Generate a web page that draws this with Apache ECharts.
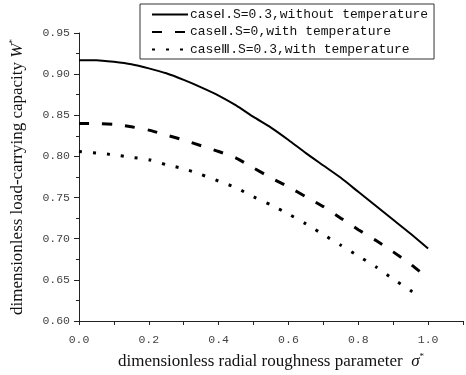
<!DOCTYPE html>
<html>
<head>
<meta charset="utf-8">
<script src="https://cdn.jsdelivr.net/npm/echarts@6/dist/echarts.min.js"></script>
<style>html,body{margin:0;padding:0;background:#fff;}#c{width:466px;height:375px;}</style>
</head>
<body>
<div id="c"></div>
<script>
var seriesNames = ['caseⅠ.S=0.3,without temperature', 'caseⅡ.S=0,with temperature', 'caseⅢ.S=0.3,with temperature'];
var xValues = [0, 0.05, 0.1, 0.15, 0.2, 0.25, 0.3, 0.35, 0.4, 0.45, 0.5, 0.55, 0.6, 0.65, 0.7, 0.75, 0.8, 0.85, 0.9, 0.95, 1.0];
var caseI = [0.917, 0.917, 0.915, 0.912, 0.907, 0.901, 0.893, 0.884, 0.874, 0.862, 0.848, 0.835, 0.820, 0.804, 0.789, 0.774, 0.757, 0.740, 0.723, 0.706, 0.688];
var caseII = [0.840, 0.840, 0.839, 0.836, 0.832, 0.826, 0.820, 0.813, 0.806, 0.798, 0.786, 0.774, 0.763, 0.751, 0.739, 0.725, 0.711, 0.698, 0.684, 0.669, 0.652];
var xValuesIII = [0, 0.05, 0.1, 0.15, 0.2, 0.25, 0.3, 0.35, 0.4, 0.45, 0.5, 0.55, 0.6, 0.65, 0.7, 0.75, 0.8, 0.85, 0.9, 0.95, 0.97];
var caseIII = [0.806, 0.804, 0.802, 0.799, 0.796, 0.790, 0.785, 0.778, 0.770, 0.762, 0.751, 0.741, 0.730, 0.718, 0.705, 0.692, 0.679, 0.666, 0.651, 0.637, 0.630];

function pairs(xs, ys) { return xs.map(function (x, i) { return [x, ys[i]]; }); }

var chart = echarts.init(document.getElementById('c'));
var monoFont = '"Liberation Mono", "DejaVu Sans Mono", monospace';
var serifFont = '"Liberation Serif", "DejaVu Serif", serif';
chart.setOption({
  animation: false,
  backgroundColor: '#fff',
  color: ['#000', '#000', '#000'],
  grid: { left: 78, right: 0, top: 33, bottom: 51 },
  legend: {
    orient: 'vertical',
    left: 140, top: 4,
    backgroundColor: '#fff',
    borderColor: '#333', borderWidth: 1,
    padding: [4, 6, 3, 11],
    itemGap: 4.5,
    itemWidth: 36, itemHeight: 13,
    itemStyle: { opacity: 0 },
    textStyle: { fontFamily: monoFont, fontSize: 13, color: '#111', padding: [0, 0, 0, -3] },
    data: seriesNames
  },
  xAxis: {
    type: 'value', min: 0, max: 1.1, interval: 0.1,
    axisLine: { show: true, lineStyle: { color: '#222', width: 1 } },
    axisTick: { show: true, length: 4, lineStyle: { color: '#222' } },
    splitLine: { show: false },
    axisLabel: {
      fontFamily: monoFont, fontSize: 11.5, color: '#444', margin: 13,
      formatter: function (v) {
        var k = Math.round(v * 10);
        if (k % 2 !== 0 || k > 10) return '';
        return (k / 10).toFixed(1);
      }
    },
    name: '{a|dimensionless radial roughness parameter  }{i|σ}{s|*}',
    nameLocation: 'middle', nameGap: 31,
    nameTextStyle: {
      rich: {
        a: { fontFamily: serifFont, fontSize: 17, color: '#111' },
        i: { fontFamily: serifFont, fontSize: 17, fontStyle: 'italic', color: '#111' },
        s: { fontFamily: serifFont, fontSize: 9, color: '#111', padding: [0, 0, 10, 0] }
      }
    }
  },
  yAxis: {
    type: 'value', min: 0.6, max: 0.95, interval: 0.05,
    axisLine: { show: true, lineStyle: { color: '#222', width: 1 } },
    axisTick: { show: true, length: 5, lineStyle: { color: '#222' } },
    minorTick: { show: true, splitNumber: 2, length: 3, lineStyle: { color: '#222' } },
    splitLine: { show: false },
    axisLabel: {
      fontFamily: monoFont, fontSize: 11.5, color: '#444', margin: 9,
      formatter: function (v) { return v.toFixed(2); }
    },
    name: '{a|dimensionless load-carrying capacity }{i|W}{s|*}',
    nameLocation: 'middle', nameGap: 52, nameRotate: 90,
    nameTextStyle: {
      rich: {
        a: { fontFamily: serifFont, fontSize: 17, color: '#111' },
        i: { fontFamily: serifFont, fontSize: 17, fontStyle: 'italic', color: '#111' },
        s: { fontFamily: serifFont, fontSize: 9, color: '#111', padding: [0, 0, 10, 0] }
      }
    }
  },
  series: [
    {
      name: seriesNames[0], type: 'line', data: pairs(xValues, caseI),
      symbol: 'none', smooth: 0.2,
      itemStyle: { color: '#000' },
      lineStyle: { color: '#000', width: 2, type: 'solid' }
    },
    {
      name: seriesNames[1], type: 'line', data: pairs(xValues, caseII),
      symbol: 'none', smooth: 0.2,
      itemStyle: { color: '#000' },
      lineStyle: { color: '#000', width: 3, type: [10, 13], cap: 'butt' }
    },
    {
      name: seriesNames[2], type: 'line', data: pairs(xValuesIII, caseIII),
      symbol: 'none', smooth: 0.2,
      itemStyle: { color: '#000' },
      lineStyle: { color: '#000', width: 3, type: [3, 11], cap: 'butt' }
    }
  ]
});
</script>
</body>
</html>
